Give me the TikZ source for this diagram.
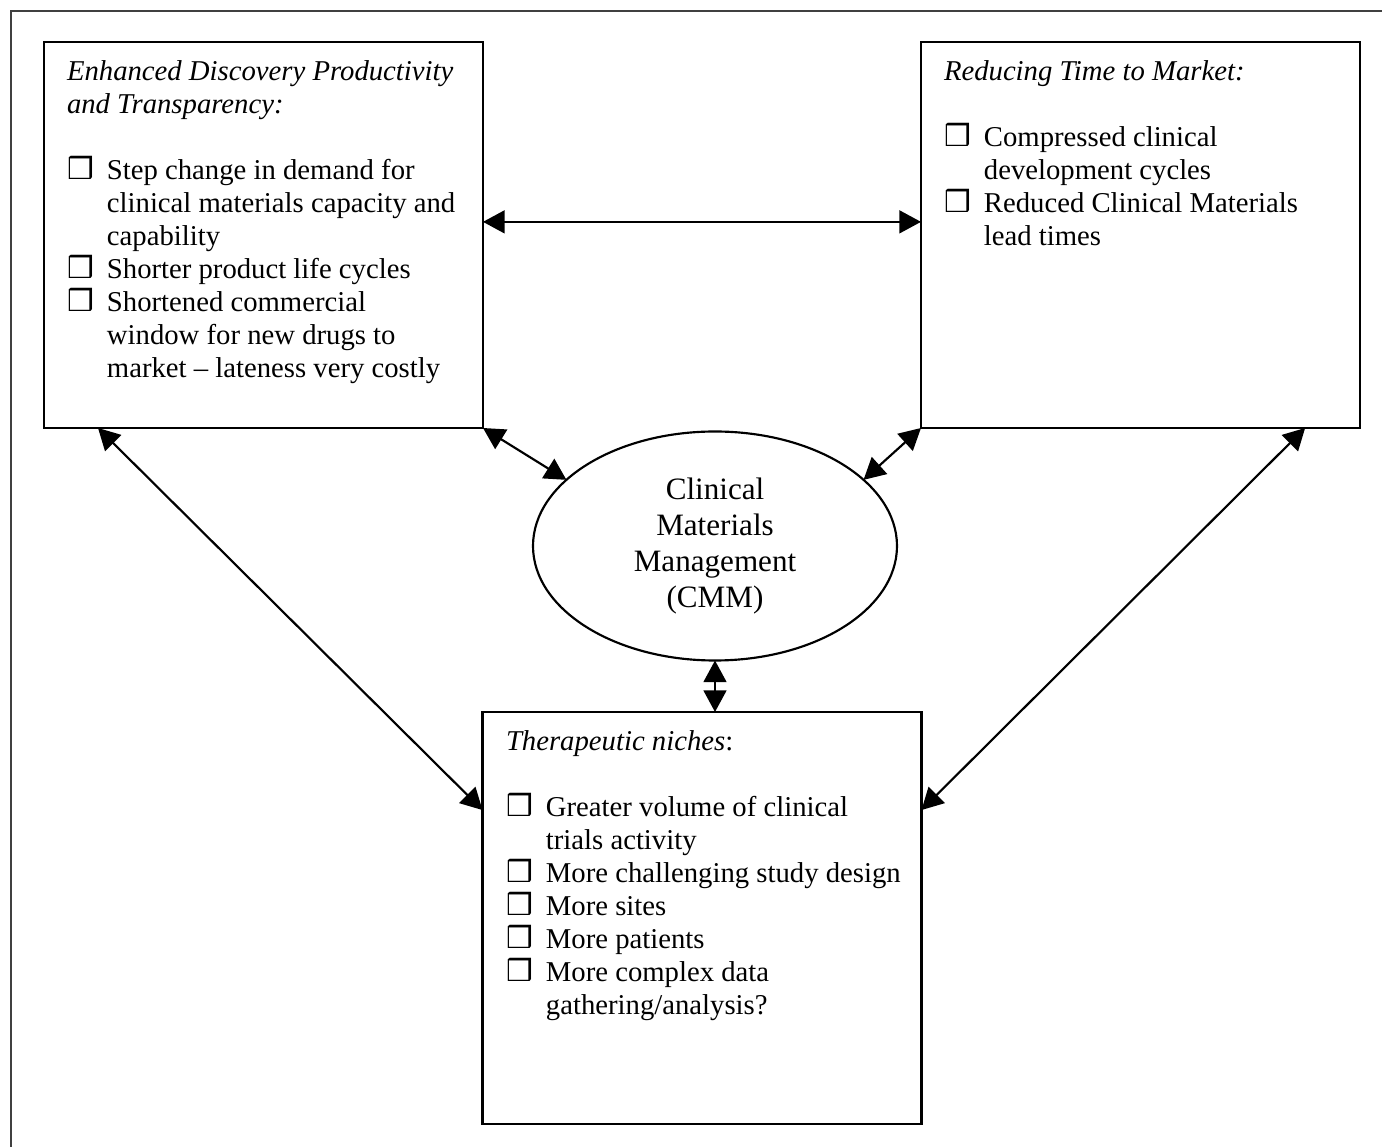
\documentclass[tikz,border=0pt]{standalone}
\usepackage{fontspec}
\setmainfont{Liberation Serif}
\newfontfamily\djv{DejaVu Sans}
\usetikzlibrary{arrows.meta,shapes.geometric,calc}
\newcommand\bul{{\djv\fontsize{12.5}{13.8}\selectfont ❒}}
\tikzset{
  box/.style={draw, line width=0.9pt, rectangle, inner sep=0pt, outer sep=0pt},
  txt/.style={inner sep=0pt, outer sep=0pt, anchor=north west, font=\fontsize{12}{13.8}\selectfont},
  arr/.style={line width=0.9pt, >={Triangle[length=9pt,width=9.5pt]}, <->},
  frame/.style={line width=0.6pt, draw=black!75}
}
\begin{document}
\begin{tikzpicture}[x=0.418pt, y=-0.418pt]
\useasboundingbox (0,0) rectangle (1382,1147);
\coordinate (fb) at (11,1147);
\coordinate (fc) at (11,11);
\coordinate (fr) at (1382,11);
\draw[frame] (fb) -- (fc) -- (fr);

\node[box, minimum width={439*0.418pt}, minimum height={386*0.418pt}] (b1) at (263.5,235) {};
\node[box, minimum width={439*0.418pt}, minimum height={386*0.418pt}] (b2) at (1140.5,235) {};
\node[box, minimum width={439*0.418pt}, minimum height={412*0.418pt}] (b3) at (702,918) {};
\node[ellipse, draw, line width=0.9pt, minimum width={364*0.418pt}, minimum height={229*0.418pt}, inner sep=0pt, outer sep=0pt, align=center, font=\fontsize{13}{15}\selectfont] (cmm) at (715,546) {Clinical\\Materials\\Management\\(CMM)};

\node[txt] (t1) at (67,57) {\begin{tabular}{@{}p{16.7pt}@{}l@{}}
\multicolumn{2}{@{}l@{}}{\textit{Enhanced Discovery Productivity}}\\
\multicolumn{2}{@{}l@{}}{\textit{and Transparency:}}\\
 & \\
\bul & Step change in demand for\\
 & clinical materials capacity and\\
 & capability\\
\bul & Shorter product life cycles\\
\bul & Shortened commercial\\
 & window for new drugs to\\
 & market – lateness very costly
\end{tabular}};

\node[txt] (t2) at (944,57) {\begin{tabular}{@{}p{16.7pt}@{}l@{}}
\multicolumn{2}{@{}l@{}}{\textit{Reducing Time to Market:}}\\
 & \\
\bul & Compressed clinical\\
 & development cycles\\
\bul & Reduced Clinical Materials\\
 & lead times
\end{tabular}};

\node[txt] (t3) at (506,727) {\begin{tabular}{@{}p{16.7pt}@{}l@{}}
\multicolumn{2}{@{}l@{}}{\textit{Therapeutic niches}:}\\
 & \\
\bul & Greater volume of clinical\\
 & trials activity\\
\bul & More challenging study design\\
\bul & More sites\\
\bul & More patients\\
\bul & More complex data\\
 & gathering/analysis?
\end{tabular}};

\draw[arr] ($(b1.north east)!0.466!(b1.south east)$) -- ($(b2.north west)!0.466!(b2.south west)$);
\draw[arr] (b1.south east) -- (cmm.156);
\draw[arr] (b2.south west) -- (cmm.24);
\draw[arr] (cmm.south) -- (cmm.south |- b3.north);
\draw[arr] ($(b1.south west)!0.123!(b1.south east)$) -- ($(b3.north west)!0.238!(b3.south west)$);
\draw[arr] ($(b2.south west)!0.875!(b2.south east)$) -- ($(b3.north east)!0.238!(b3.south east)$);
\end{tikzpicture}
\end{document}
